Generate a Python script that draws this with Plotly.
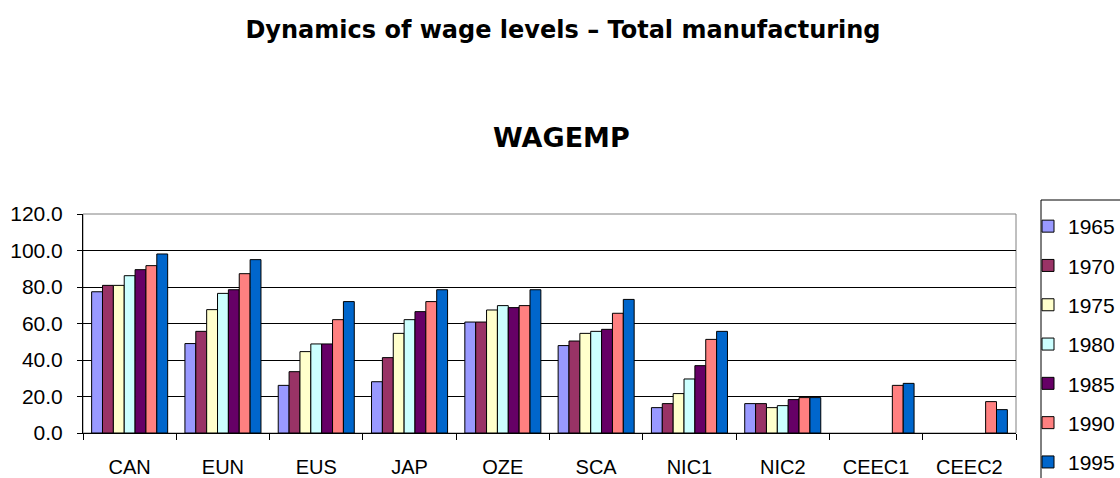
import plotly.graph_objects as go

categories = ["CAN", "EUN", "EUS", "JAP", "OZE", "SCA", "NIC1", "NIC2", "CEEC1", "CEEC2"]
years = ["1965", "1970", "1975", "1980", "1985", "1990", "1995"]

v1965 = [77.4, 49.0, 26.1, 28.1, 60.8, 47.9, 13.9, 16.1, None, None]
v1970 = [80.9, 55.7, 33.6, 41.3, 60.8, 50.4, 16.1, 16.1, None, None]
v1975 = [80.9, 67.6, 44.6, 54.6, 67.4, 54.6, 21.6, 13.9, None, None]
v1980 = [86.2, 76.5, 48.8, 62.1, 69.8, 55.7, 29.6, 15.0, None, None]
v1985 = [89.5, 78.5, 48.8, 66.5, 68.7, 56.8, 36.9, 18.3, None, None]
v1990 = [91.7, 87.3, 62.1, 72.0, 69.8, 65.6, 51.3, 19.4, 26.1, 17.2]
v1995 = [98.1, 95.0, 72.0, 78.5, 78.5, 73.2, 55.7, 19.4, 27.2, 12.8]

series = [v1965, v1970, v1975, v1980, v1985, v1990, v1995]
colors = ["#9999FF", "#993366", "#FFFFCC", "#CCFFFF", "#660066", "#FF8080", "#0066CC"]

y_ticks = [0, 20, 40, 60, 80, 100, 120]

FONT = "Liberation Sans, Arial, sans-serif"
TFONT = "DejaVu Sans, sans-serif"

# plot area in pixels
L, R, T, B = 83, 1016, 214, 433
PW, PH = R - L, B - T

fig = go.Figure()
for yr, vals, col in zip(years, series, colors):
    fig.add_trace(go.Bar(
        x=categories, y=vals, name=yr, legendgroup=yr,
        marker=dict(color=col, line=dict(color="black", width=1)),
    ))

fig.update_layout(
    width=1120, height=478,
    paper_bgcolor="white", plot_bgcolor="white",
    barmode="group", bargap=0.185, bargroupgap=0,
    margin=dict(l=L, r=1120 - R, t=T, b=478 - B, autoexpand=False),
    font=dict(family=FONT, color="black", size=20),
    title=dict(text="<b>Dynamics of wage levels – Total manufacturing</b>",
               x=563 / 1120, xanchor="center", y=1 - 30 / 478, yanchor="middle",
               font=dict(size=24, family=TFONT, color="black")),
    annotations=[dict(text="<b>WAGEMP</b>", xref="paper", yref="paper",
                      x=(561 - L) / PW, y=(B - 137) / PH, xanchor="center", yanchor="middle",
                      showarrow=False, font=dict(size=27, family=TFONT, color="black"))],
    legend=dict(x=(1028 - L) / PW, xanchor="left", y=(B - 206) / PH, yanchor="top",
                borderwidth=0, bgcolor="rgba(0,0,0,0)",
                font=dict(size=21, family=FONT, color="black"),
                tracegroupgap=9, itemclick=False, maxheight=320),
    shapes=[dict(type="rect", xref="paper", yref="paper", x0=0, x1=1, y0=0, y1=1,
                 line=dict(color="#808080", width=1), layer="below"),
            dict(type="rect", xref="paper", yref="paper",
                 x0=(1041 - L) / PW, x1=(1130 - L) / PW, y0=(B - 490) / PH, y1=(B - 200) / PH,
                 line=dict(color="black", width=1), fillcolor="rgba(0,0,0,0)", layer="above")],
)
fig.update_xaxes(showline=True, linecolor="black", linewidth=1,
                 ticks="outside", tickson="boundaries", ticklen=6, tickcolor="black",
                 ticklabelstandoff=16, showgrid=False,
                 tickfont=dict(size=20, family=FONT, color="black"))
fig.update_yaxes(range=[0, 120], tickvals=y_ticks, tickformat=".1f",
                 showline=True, linecolor="black", linewidth=1,
                 ticks="outside", ticklen=5, tickcolor="black",
                 showgrid=True, gridcolor="black", gridwidth=1, zeroline=False,
                 ticklabelstandoff=10,
                 tickfont=dict(size=21, family=FONT, color="black"))

fig.write_html("out.html", config={"displayModeBar": False},
               post_script="document.body.style.margin='0';")
